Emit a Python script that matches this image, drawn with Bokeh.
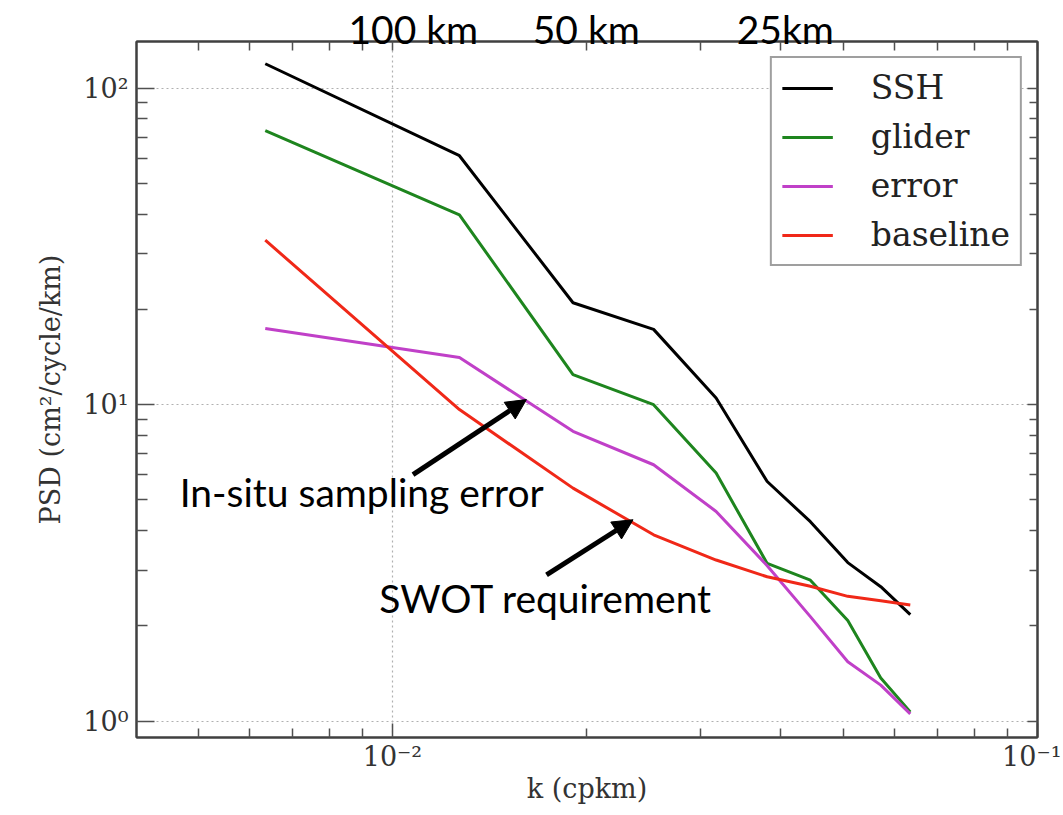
from bokeh.plotting import figure
from bokeh.models import (FixedTicker, LogAxis, CustomJSTickFormatter, Legend,
                          LegendItem, Label, Arrow, NormalHead)
from bokeh.embed import file_html
from bokeh.resources import INLINE

# ---------------- data ----------------
k = [0.00635, 0.0127, 0.01905, 0.0254, 0.03175, 0.0381, 0.04445, 0.0508, 0.05715, 0.0635]
ssh = [119.5, 61.2, 21.0, 17.3, 10.5, 5.72, 4.27, 3.17, 2.66, 2.17]
glider = [73.5, 39.8, 12.45, 10.0, 6.08, 3.15, 2.79, 2.08, 1.37, 1.07]
error = [17.4, 14.1, 8.24, 6.46, 4.60, 3.10, 2.14, 1.54, 1.30, 1.055]
baseline = [33.1, 9.65, 5.45, 3.88, 3.23, 2.86, 2.67, 2.48, 2.40, 2.33]

series_names = ["SSH", "glider", "error", "baseline"]
series_colors = ["#000000", "#1e851e", "#c040c8", "#f02818"]

x_major = [0.01, 0.1]
x_minor = [0.004, 0.005, 0.006, 0.007, 0.008, 0.009,
           0.02, 0.03, 0.04, 0.05, 0.06, 0.07, 0.08, 0.09]
y_major = [1, 10, 100]
y_minor = [2, 3, 4, 5, 6, 7, 8, 9, 20, 30, 40, 50, 60, 70, 80, 90]

# wavelength labels along the top edge
scale_texts = ["100 km", "50 km", "25km"]
scale_x = [0.010771, 0.01997, 0.040645]

note_texts = ["In-situ sampling error", "SWOT requirement"]
note_x = [0.008961, 0.017282]
note_y = [5.30, 2.45]

arrow_x0 = [0.01076, 0.01733]
arrow_y0 = [6.01, 2.90]
arrow_x1 = [0.01613, 0.0236]
arrow_y1 = [10.38, 4.33]

# ---------------- figure ----------------
p = figure(width=1061, height=813, x_axis_type="log", y_axis_type="log",
           x_range=(0.00401, 0.1), y_range=(0.888, 140.5),
           output_backend="svg", toolbar_location=None,
           min_border_left=136, min_border_right=24,
           min_border_top=41, min_border_bottom=76,
           background_fill_color="white", border_fill_color="white")

p.outline_line_color = "#404040"
p.outline_line_width = 2

sup_js = """
const e = Math.round(Math.log10(tick));
const m = {"-":"\u207b","0":"\u2070","1":"\u00b9","2":"\u00b2","3":"\u00b3","4":"\u2074"};
return "10" + String(e).split("").map(c => m[c]).join("");
"""

def style_axis(ax, major_in, minor_in):
    ax.major_tick_in = major_in
    ax.major_tick_out = 0
    ax.minor_tick_in = minor_in
    ax.minor_tick_out = 0
    ax.major_tick_line_color = "#505050"
    ax.minor_tick_line_color = "#505050"
    ax.major_tick_line_width = 1.5
    ax.minor_tick_line_width = 1.5
    ax.axis_line_color = "#404040"
    ax.axis_line_width = 2

xa = p.xaxis[0]
xa.ticker = FixedTicker(ticks=x_major, minor_ticks=x_minor)
xa.formatter = CustomJSTickFormatter(code=sup_js)
style_axis(xa, 14, 9)
xa.major_label_text_font = "DejaVu Serif"
xa.major_label_text_font_size = "27px"
xa.major_label_text_color = "#333333"
xa.major_label_standoff = 3
xa.axis_label = "k (cpkm)"
xa.axis_label_text_font = "DejaVu Serif"
xa.axis_label_text_font_size = "27px"
xa.axis_label_text_font_style = "normal"
xa.axis_label_text_color = "#333333"
xa.axis_label_standoff = -2

ya = p.yaxis[0]
ya.ticker = FixedTicker(ticks=y_major, minor_ticks=y_minor)
ya.formatter = CustomJSTickFormatter(code=sup_js)
style_axis(ya, 18, 11)
ya.major_label_text_font = "DejaVu Serif"
ya.major_label_text_font_size = "27px"
ya.major_label_text_color = "#333333"
ya.major_label_standoff = 8
ya.axis_label = "PSD (cm\u00b2/cycle/km)"
ya.axis_label_text_font = "DejaVu Serif"
ya.axis_label_text_font_size = "27px"
ya.axis_label_text_font_style = "normal"
ya.axis_label_text_color = "#333333"
ya.axis_label_standoff = 14

p.xgrid[0].ticker = xa.ticker
p.ygrid[0].ticker = ya.ticker

# top axis: carries the wavelength labels, plus the inward minor ticks
scale_labels = dict(zip(scale_x, scale_texts))
top_ax = LogAxis(ticker=FixedTicker(ticks=scale_x, minor_ticks=x_minor + x_major),
                 major_label_overrides=scale_labels)
style_axis(top_ax, 0, 9)
top_ax.major_tick_line_color = None
top_ax.major_label_text_font = "Lato"
top_ax.major_label_text_font_size = "39px"
top_ax.major_label_text_color = "black"
top_ax.major_label_standoff = -10
top_ax.major_label_text_baseline = "alphabetic"
p.add_layout(top_ax, "above")

right_ax = LogAxis(ticker=FixedTicker(ticks=y_major, minor_ticks=y_minor),
                   formatter=CustomJSTickFormatter(code="return '';"),
                   major_label_text_font_size="0px")
style_axis(right_ax, 10, 8)
p.add_layout(right_ax, "right")

for g in (p.xgrid[0], p.ygrid[0]):
    g.grid_line_color = "#b0b0b0"
    g.grid_line_dash = "2 3"
    g.grid_line_width = 1.2

# ---------------- lines ----------------
items = []
for name, ys, col in zip(series_names, [ssh, glider, error, baseline], series_colors):
    r = p.line(k, ys, line_color=col, line_width=3)
    items.append(LegendItem(label=name, renderers=[r]))

legend = Legend(items=items, location="top_right", margin=15,
                padding=10, spacing=10, glyph_width=51, glyph_height=30,
                label_standoff=38, label_text_font="DejaVu Serif",
                label_text_font_size="33px", label_text_color="#222222",
                border_line_color="#404040", border_line_width=2,
                background_fill_color="white", background_fill_alpha=1)
p.add_layout(legend, "center")

# ---------------- annotations ----------------
for t, x, y in zip(note_texts, note_x, note_y):
    p.add_layout(Label(x=x, y=y, text=t, text_align="center",
                       text_baseline="alphabetic", text_font="Lato",
                       text_font_size="39px", text_color="black"))
for x0, y0, x1, y1 in zip(arrow_x0, arrow_y0, arrow_x1, arrow_y1):
    p.add_layout(Arrow(end=NormalHead(size=20, fill_color="black", line_color="black"),
                       x_start=x0, y_start=y0, x_end=x1, y_end=y1,
                       line_width=5, line_color="black"))

open("out.html", "w").write(file_html(p, INLINE))
